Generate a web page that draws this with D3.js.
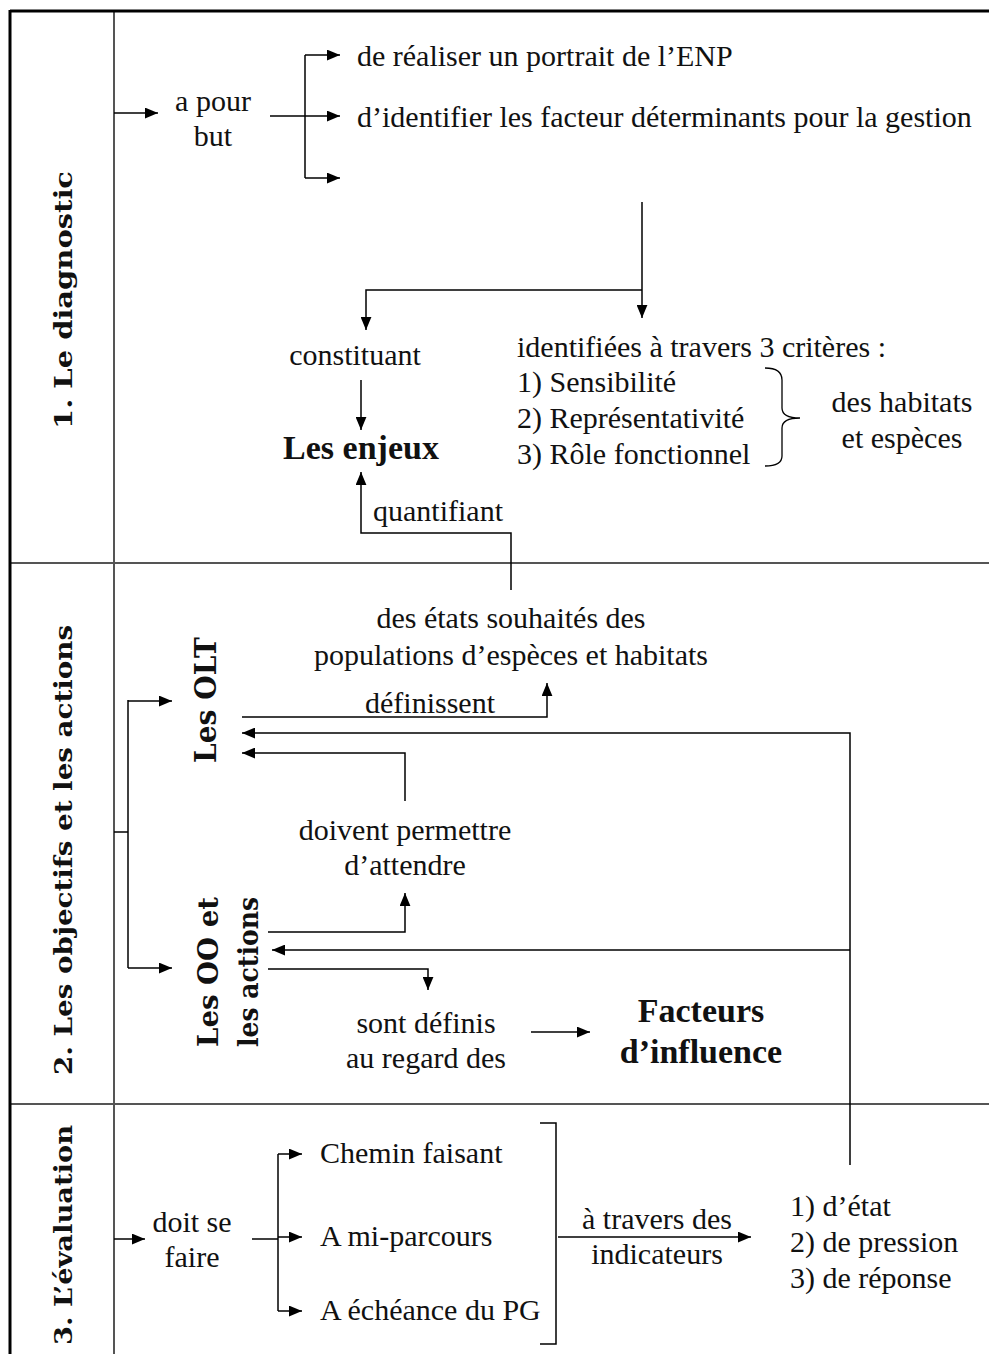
<!DOCTYPE html>
<html lang="fr">
<head>
<meta charset="UTF-8" />
<title>Plan de gestion</title>
<script src="https://d3js.org/d3.v7.min.js"></script>
<style>
  body { margin: 0; background: #fff; }
  text { font-family: "Liberation Serif", "Times New Roman", serif; fill: #111; }
  .bold { font-weight: bold; }
  .side { font-family: "DejaVu Serif", serif; font-weight: bold; }
</style>
</head>
<body>
<div class="canvas"></div>
<script>
// textes du schéma
const sections = ["1. Le diagnostic", "2. Les objectifs et les actions", "3. L’évaluation"];
const butLabel = ["a pour", "but"];
const buts = ["de réaliser un portrait de l’ENP", "d’identifier les facteur déterminants pour la gestion", ""];
const criteresTitre = "identifiées à travers 3 critères :";
const criteres = ["1) Sensibilité", "2) Représentativité", "3) Rôle fonctionnel"];
const criteresCible = ["des habitats", "et espèces"];
const etats = ["des états souhaités des", "populations d’espèces et habitats"];
const permettre = ["doivent permettre", "d’attendre"];
const ooLabel = ["Les OO et", "les actions"];
const definis = ["sont définis", "au regard des"];
const facteurs = ["Facteurs", "d’influence"];
const faire = ["doit se", "faire"];
const moments = ["Chemin faisant", "A mi-parcours", "A échéance du PG"];
const travers = ["à travers des", "indicateurs"];
const indicateurs = ["1) d’état", "2) de pression", "3) de réponse"];

const W = 989, H = 1354;
const svg = d3.select(".canvas").append("svg").attr("width", W).attr("height", H);

svg.append("defs").append("marker")
  .attr("id", "fl").attr("viewBox", "0 0 12 10")
  .attr("refX", 12).attr("refY", 5)
  .attr("markerWidth", 13).attr("markerHeight", 11)
  .attr("markerUnits", "userSpaceOnUse").attr("orient", "auto")
  .append("path").attr("d", "M0,0 L12,5 L0,10 Z").attr("fill", "#000");

// grille du tableau
const grille = svg.append("g").attr("stroke", "#555").attr("stroke-width", 2);
grille.append("line").attr("x1", 114).attr("x2", 114).attr("y1", 11).attr("y2", H);
[563, 1104].forEach(y => grille.append("line").attr("x1", 10).attr("x2", W).attr("y1", y).attr("y2", y));
svg.append("line").attr("x1", 10).attr("x2", W).attr("y1", 11).attr("y2", 11).attr("stroke", "#000").attr("stroke-width", 3);
svg.append("line").attr("x1", 10).attr("x2", 10).attr("y1", 10).attr("y2", H).attr("stroke", "#000").attr("stroke-width", 3);

// titres de section verticaux
const sideCentres = [300, 850, 1235];
const sideLens = [258, 450, 220];
sections.forEach((s, i) => {
  svg.append("text").attr("class", "side")
    .attr("transform", `translate(72,${sideCentres[i]}) rotate(-90)`)
    .attr("text-anchor", "middle").attr("font-size", 25)
    .attr("textLength", sideLens[i]).attr("lengthAdjust", "spacingAndGlyphs")
    .text(s);
});

function txt(x, y, s, size = 30, anchor = "start", cls = "") {
  return svg.append("text").attr("x", x).attr("y", y).attr("dy", "0.35em")
    .attr("font-size", size).attr("text-anchor", anchor).attr("class", cls).text(s);
}
function lignes(x, y0, dy, arr, size = 30, anchor = "middle", cls = "") {
  arr.forEach((s, i) => txt(x, y0 + i * dy, s, size, anchor, cls));
}
const line = d3.line();
function fleche(pts, head = true) {
  svg.append("path").attr("d", line(pts)).attr("fill", "none")
    .attr("stroke", "#000").attr("stroke-width", 1.5)
    .attr("marker-end", head ? "url(#fl)" : null);
}

// ---- 1. Le diagnostic ----
fleche([[114, 113], [158, 113]]);
lignes(213, 100, 35, butLabel);
const butY = [55, 116, 178];
fleche([[270, 116], [305, 116]], false);
fleche([[305, butY[0]], [305, butY[2]]], false);
buts.forEach((s, i) => {
  fleche([[305, butY[i]], [340, butY[i]]]);
  txt(357, butY[i], s);
});
fleche([[642, 202], [642, 318]]);
fleche([[642, 290], [366, 290], [366, 330]]);
txt(355, 354, "constituant", 30, "middle");
fleche([[361, 380], [361, 430]]);
txt(361, 447, "Les enjeux", 34, "middle", "bold");
txt(517, 346, criteresTitre);
criteres.forEach((s, i) => txt(517, 381 + i * 36, s));
svg.append("path")
  .attr("d", "M765,368 Q782,368 782,380 L782,408 Q782,418 800,418 Q782,418 782,428 L782,456 Q782,466 765,466")
  .attr("fill", "none").attr("stroke", "#000").attr("stroke-width", 1.3);
lignes(902, 401, 36, criteresCible);
fleche([[511, 590], [511, 533], [361, 533], [361, 472]]);
txt(373, 510, "quantifiant");

// ---- 2. Les objectifs et les actions ----
lignes(511, 617, 37, etats);
fleche([[128, 700], [128, 968]], false);
fleche([[114, 832], [128, 832]], false);
fleche([[128, 701], [172, 701]]);
fleche([[128, 968], [172, 968]]);
svg.append("text").attr("class", "side")
  .attr("transform", "translate(216,700) rotate(-90)")
  .attr("text-anchor", "middle").attr("font-size", 30)
  .attr("textLength", 126).attr("lengthAdjust", "spacingAndGlyphs").text("Les OLT");
ooLabel.forEach((s, i) => {
  svg.append("text").attr("class", "side")
    .attr("transform", `translate(${218 + i * 40},972) rotate(-90)`)
    .attr("text-anchor", "middle").attr("font-size", 28)
    .attr("textLength", 150).attr("lengthAdjust", "spacingAndGlyphs").text(s);
});
fleche([[242, 717], [547, 717], [547, 683]]);
txt(430, 702, "définissent", 30, "middle");
fleche([[850, 1165], [850, 733], [242, 733]]);
fleche([[405, 801], [405, 753], [242, 753]]);
lignes(405, 829, 35, permettre);
fleche([[268, 932], [405, 932], [405, 893]]);
fleche([[850, 950], [272, 950]]);
fleche([[268, 969], [428, 969], [428, 990]]);
lignes(426, 1022, 35, definis);
fleche([[531, 1032], [590, 1032]]);
lignes(701, 1010, 41, facteurs, 34, "middle", "bold");

// ---- 3. L'évaluation ----
fleche([[114, 1239], [145, 1239]]);
lignes(192, 1221, 35, faire);
const momY = [1154, 1237, 1311];
fleche([[252, 1239], [278, 1239]], false);
fleche([[278, momY[0]], [278, momY[2]]], false);
moments.forEach((s, i) => {
  fleche([[278, momY[i]], [302, momY[i]]]);
  txt(320, momY[i] - 2, s);
});
fleche([[540, 1123], [556, 1123], [556, 1344], [540, 1344]], false);
fleche([[558, 1237], [751, 1237]]);
lignes(657, 1218, 35, travers);
indicateurs.forEach((s, i) => txt(790, 1205 + i * 36, s));
</script>
</body>
</html>
